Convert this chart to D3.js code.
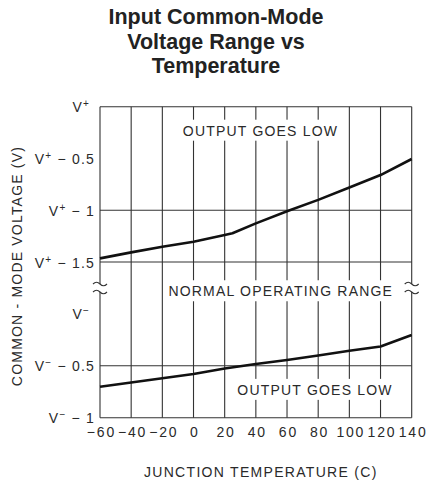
<!DOCTYPE html>
<html><head><meta charset="utf-8">
<script src="https://cdn.jsdelivr.net/npm/d3@7"></script>
<style>
html,body{margin:0;padding:0;background:#fff;}
svg{display:block;}
</style></head>
<body>
<script>
// ---- data ----
const titleLines = ["Input Common-Mode", "Voltage Range vs", "Temperature"];
const xTicks = [-60, -40, -20, 0, 20, 40, 60, 80, 100, 120, 140];
const xTickLabels = ["−60", "−40", "−20", "0", "20", "40", "60", "80", "100", "120", "140"];
// upper curve: volts relative to V+
const upperTemps = [-60, -40, -20, 0, 20, 25, 40, 60, 80, 100, 120, 140];
const upperVals = [-1.465, -1.407, -1.353, -1.304, -1.24, -1.223, -1.127, -1.01, -0.90, -0.78, -0.66, -0.505];
// lower curve: volts relative to V-
const lowerTemps = [-60, -40, -20, 0, 20, 40, 60, 80, 100, 120, 140];
const lowerVals = [-0.701, -0.661, -0.620, -0.579, -0.526, -0.483, -0.444, -0.401, -0.355, -0.314, -0.203];
const upperTicks = [0, -0.5, -1, -1.5];
const upperTickLabels = [["V", "+", ""], ["V", "+", " − 0.5"], ["V", "+", " − 1"], ["V", "+", " − 1.5"]];
const lowerTicks = [0, -0.5, -1];
const lowerTickLabels = [["V", "−", ""], ["V", "−", " − 0.5"], ["V", "−", " − 1"]];
const upperGrid = [0, -1, -1.5];
const lowerGrid = [-0.5, -1];
const regionLabels = [
  {text: "OUTPUT GOES LOW", panel: "up", t: 43, v: -0.28},
  {text: "NORMAL OPERATING RANGE", panel: "lo", t: 56, v: 0.17},
  {text: "OUTPUT GOES LOW", panel: "lo", t: 78, v: -0.78}
];
const xTitle = "JUNCTION TEMPERATURE (C)";
const yTitle = "COMMON - MODE VOLTAGE (V)";

// ---- layout ----
const W = 427, H = 496;
const L = 100, R = 411.7, T = 106.7, MID = 262, B = 417.7;
const font = "'Liberation Sans', Arial, sans-serif";
const ink = "#2a2a2a";

const svg = d3.select("body").append("svg").attr("width", W).attr("height", H);

const x = d3.scaleLinear().domain([-60, 140]).range([L, R]);
const yUp = d3.scaleLinear().domain([-1.5, 0]).range([MID, T]);
const yLo = d3.scaleLinear().domain([-1, 0.5]).range([B, MID]);

// title
svg.append("g").selectAll("text").data(titleLines).join("text")
  .attr("x", 216).attr("y", (d, i) => 24 + i * 24.5)
  .attr("text-anchor", "middle")
  .attr("font-family", font).attr("font-weight", "bold").attr("font-size", 21.5)
  .attr("fill", "#222").text(d => d);

// grid lines
const grid = svg.append("g").attr("stroke", "#333").attr("stroke-width", 1.1).attr("fill", "none");
grid.selectAll("line.v").data(xTicks).join("line").attr("class", "v")
  .attr("x1", d => x(d)).attr("x2", d => x(d)).attr("y1", T).attr("y2", B);
grid.selectAll("line.hu").data(upperGrid).join("line").attr("class", "hu")
  .attr("x1", L).attr("x2", R).attr("y1", d => yUp(d)).attr("y2", d => yUp(d));
grid.selectAll("line.hl").data(lowerGrid).join("line").attr("class", "hl")
  .attr("x1", L).attr("x2", R).attr("y1", d => yLo(d)).attr("y2", d => yLo(d));

// in-plot labels with white masks
const labelSize = 14;
const lbl = svg.append("g");
regionLabels.forEach(d => {
  const ys = d.panel === "up" ? yUp : yLo;
  const t = lbl.append("text")
    .attr("x", x(d.t)).attr("y", ys(d.v))
    .attr("text-anchor", "middle")
    .attr("font-family", font).attr("font-size", labelSize)
    .attr("letter-spacing", 1.2)
    .attr("fill", ink).text(d.text);
  const bb = t.node().getBBox();
  lbl.insert("rect", "text").attr("x", bb.x - 4).attr("y", bb.y - 3)
    .attr("width", bb.width + 8).attr("height", bb.height + 5).attr("fill", "#fff");
});

// axis break symbols
const breakY = 288;
[L, R].forEach(bx => {
  svg.append("rect").attr("x", bx - 2).attr("y", breakY - 4).attr("width", 4).attr("height", 8).attr("fill", "#fff");
  [-4, 4].forEach(off => {
    svg.append("path")
      .attr("d", `M${bx - 7},${breakY + off} q3.5,-3.5 7,0 t7,0`)
      .attr("fill", "none").attr("stroke", "#333").attr("stroke-width", 1.1);
  });
});

// curves
const lineUp = d3.line().x((d, i) => x(upperTemps[i])).y(d => yUp(d));
const lineLo = d3.line().x((d, i) => x(lowerTemps[i])).y(d => yLo(d));
svg.append("path").datum(upperVals).attr("d", lineUp)
  .attr("fill", "none").attr("stroke", "#111").attr("stroke-width", 2.6).attr("stroke-linejoin", "round");
svg.append("path").datum(lowerVals).attr("d", lineLo)
  .attr("fill", "none").attr("stroke", "#111").attr("stroke-width", 2.6).attr("stroke-linejoin", "round");

// y axes (labels only)
function yLabels(scale, ticks, labels) {
  const ax = d3.axisLeft(scale).tickValues(ticks).tickSize(0).tickPadding(5).tickFormat(() => "");
  const g = svg.append("g").attr("transform", `translate(${L},0)`).call(ax);
  g.select(".domain").remove();
  g.selectAll(".tick text").each(function(d) {
    const parts = labels[ticks.indexOf(d)];
    const t = d3.select(this).attr("font-family", font).attr("font-size", labelSize)
      .attr("fill", ink).attr("letter-spacing", 1.2).attr("dy", "0.36em");
    if (parts[2] === "") t.attr("x", -10);
    t.append("tspan").text(parts[0]);
    t.append("tspan").attr("font-size", 10).attr("dy", -5).text(parts[1]);
    t.append("tspan").attr("dy", 5).text(parts[2]);
  });
}
yLabels(yUp, upperTicks, upperTickLabels);
yLabels(yLo, lowerTicks, lowerTickLabels);

// x axis labels
const xAx = d3.axisBottom(x).tickValues(xTicks).tickSize(0).tickPadding(9)
  .tickFormat((d, i) => xTickLabels[i]);
const gx = svg.append("g").attr("transform", `translate(0,${B})`).call(xAx);
gx.select(".domain").remove();
gx.selectAll(".tick text").attr("font-family", font).attr("font-size", labelSize)
  .attr("fill", ink).attr("letter-spacing", 1.8).attr("dx", 0.9);

// axis titles
svg.append("text").attr("x", (L + R) / 2 + 5).attr("y", 477)
  .attr("text-anchor", "middle").attr("font-family", font).attr("font-size", labelSize)
  .attr("letter-spacing", 1.3).attr("fill", ink).text(xTitle);
svg.append("text").attr("transform", `translate(22,266) rotate(-90)`)
  .attr("text-anchor", "middle").attr("font-family", font).attr("font-size", labelSize)
  .attr("letter-spacing", 1.2).attr("fill", ink).text(yTitle);
</script>
</body></html>
